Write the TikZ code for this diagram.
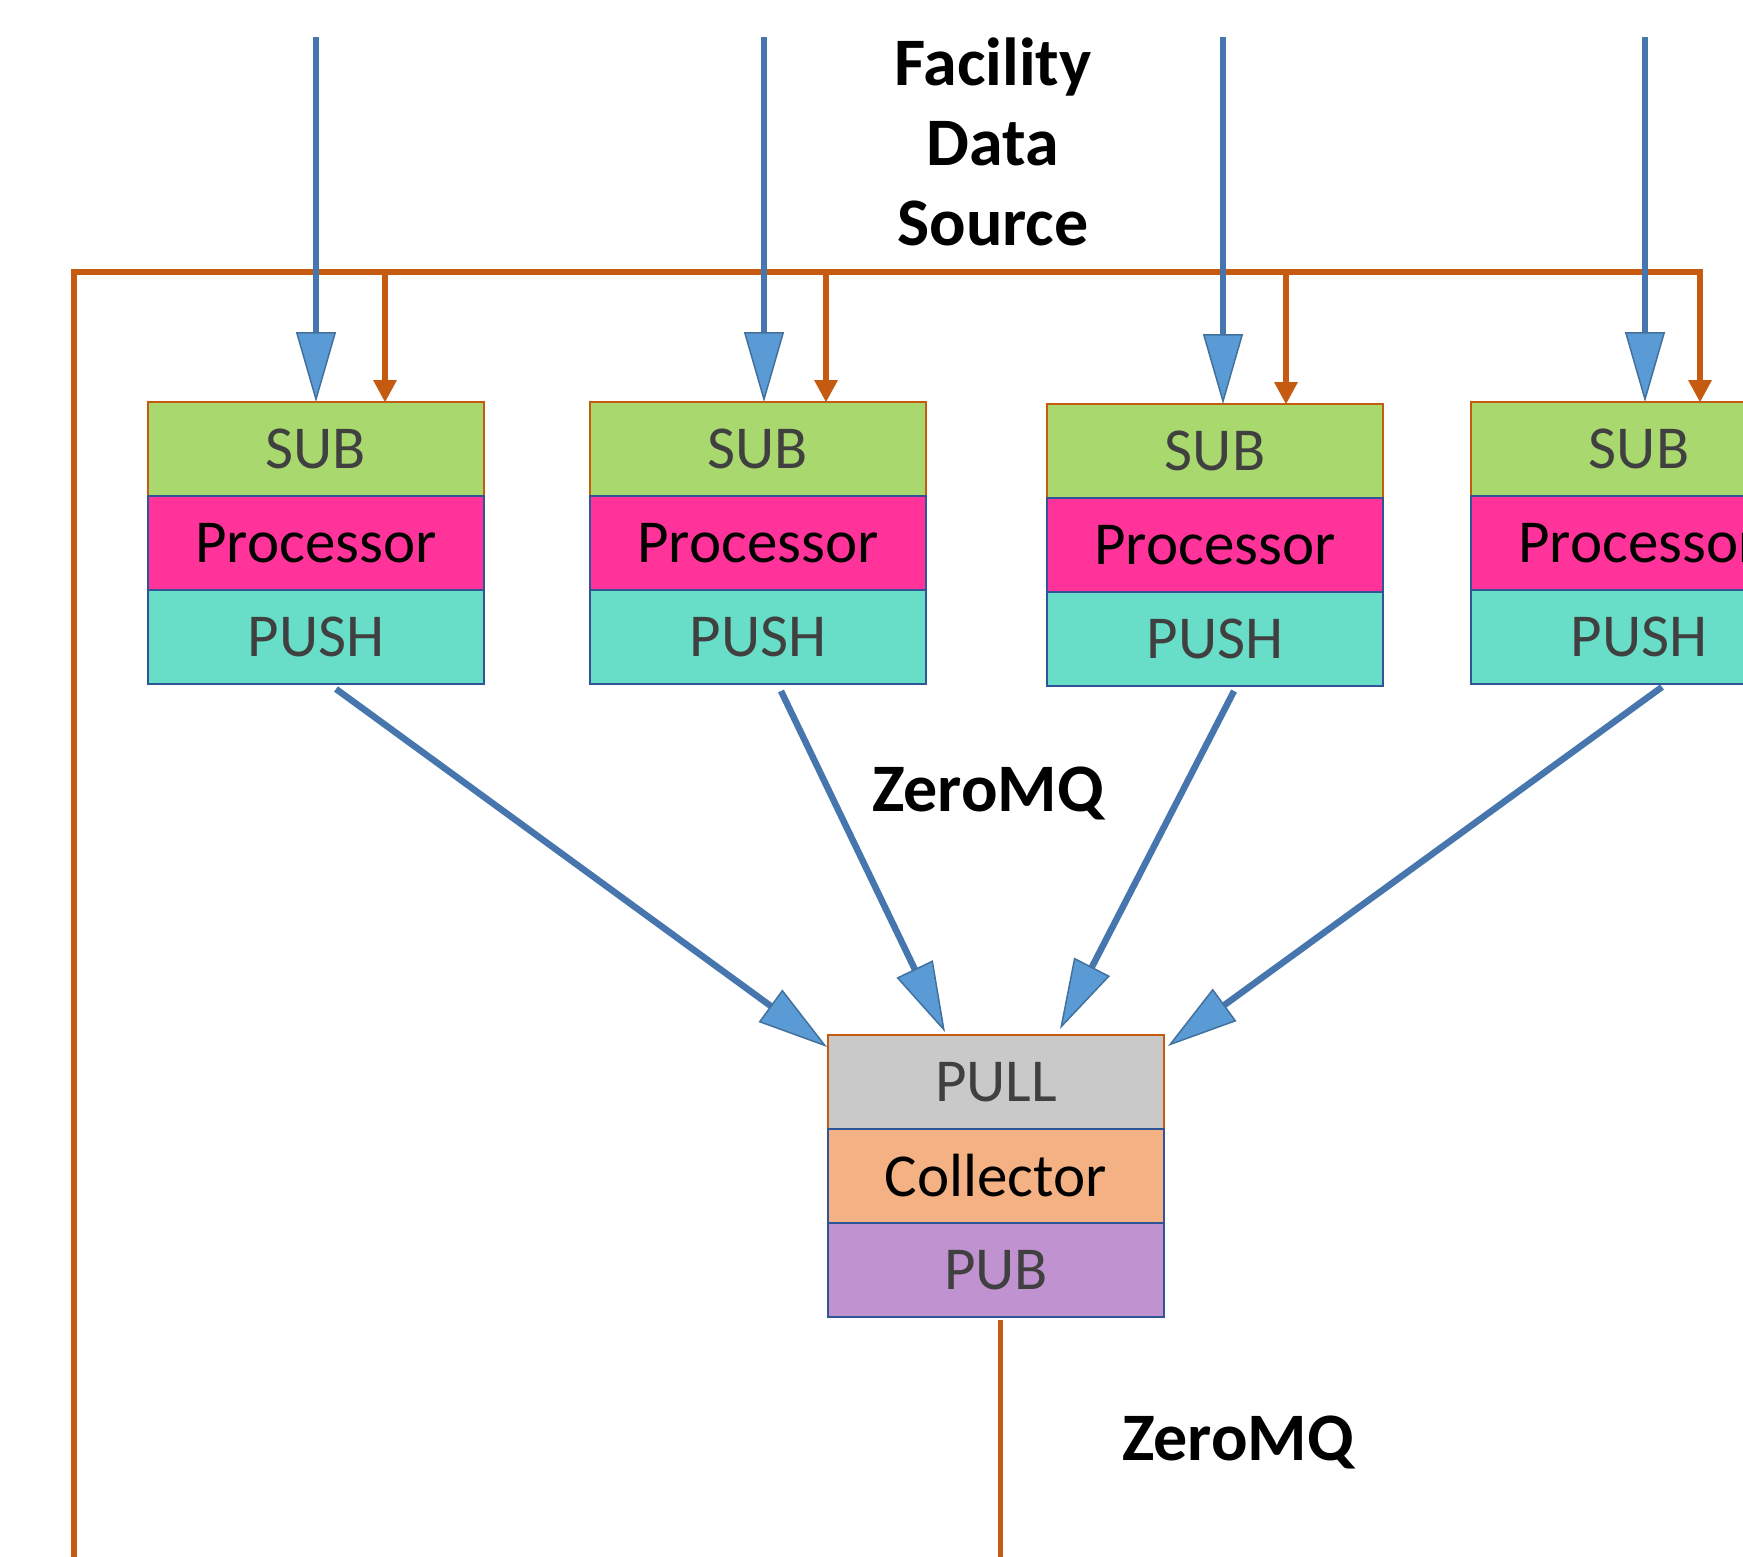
\documentclass[tikz,border=0pt]{standalone}
\usepackage{fontspec}
\setmainfont{Carlito}
\usetikzlibrary{arrows.meta,calc}
\definecolor{ored}{HTML}{C55A11}
\definecolor{bline}{HTML}{4676AD}
\definecolor{bfill}{HTML}{5B9BD5}
\definecolor{bedge}{HTML}{41719C}
\definecolor{subc}{HTML}{A9D86E}
\definecolor{procc}{HTML}{FF3399}
\definecolor{pushc}{HTML}{68DEC8}
\definecolor{pullc}{HTML}{C9C9C9}
\definecolor{collc}{HTML}{F4B183}
\definecolor{pubc}{HTML}{C093D0}
\definecolor{boxb}{HTML}{2F5597}
\definecolor{txtg}{HTML}{404040}
\begin{document}
\begin{tikzpicture}[x=1pt,y=-1pt,
 layer/.style={rectangle, minimum width=336pt, minimum height=94pt, inner sep=0pt, outer sep=0pt, anchor=north, line width=2.2pt, font=\fontsize{61}{72}\selectfont},
 sockO/.style={layer, draw=ored, text=txtg},
 sockB/.style={layer, draw=boxb, text=txtg},
 coreB/.style={layer, draw=boxb, text=black},
 bflow/.style={draw=bline, line width=6.5pt, -{Triangle[length=70pt,width=40pt,fill=bfill,color=bedge,line width=1.5pt]}},
 oflow/.style={draw=ored, line width=6.5pt, -{Triangle[length=22pt,width=24pt,fill=ored,color=ored,line width=0pt]}},
 obus/.style={draw=ored, line width=6pt},
 lbl/.style={font=\bfseries\fontsize{68}{80}\selectfont, align=center, inner sep=0pt}
]
\useasboundingbox (0,0) rectangle (1743,1556);
\clip (0,0) rectangle (1743,1556);

% processor stacks
\node[sockO, fill=subc] (sub1) at (316,402) {SUB};
\node[coreB, fill=procc] (proc1) at (sub1.south) {Processor};
\node[sockB, fill=pushc] (push1) at (proc1.south) {PUSH};

\node[sockO, fill=subc] (sub2) at (758,402) {SUB};
\node[coreB, fill=procc] (proc2) at (sub2.south) {Processor};
\node[sockB, fill=pushc] (push2) at (proc2.south) {PUSH};

\node[sockO, fill=subc] (sub3) at (1215,404) {SUB};
\node[coreB, fill=procc] (proc3) at (sub3.south) {Processor};
\node[sockB, fill=pushc] (push3) at (proc3.south) {PUSH};

\node[sockO, fill=subc] (sub4) at (1639,402) {SUB};
\node[coreB, fill=procc] (proc4) at (sub4.south) {Processor};
\node[sockB, fill=pushc] (push4) at (proc4.south) {PUSH};

% collector stack
\node[sockO, fill=pullc] (pull) at (996,1035) {PULL};
\node[coreB, fill=collc] (coll) at (pull.south) {Collector};
\node[sockB, fill=pubc] (pub) at (coll.south) {PUB};

% labels
\node[lbl] (fds) at (993,142) {Facility\\Data\\Source};
\node[lbl] (zmq1) at (988,793) {ZeroMQ};
\node[lbl] (zmq2) at (1238,1442) {ZeroMQ};

% orange bus and drops
\coordinate (bL) at (74,1560);
\coordinate (bTL) at (74,272);
\coordinate (b1) at (385,272);
\coordinate (b2) at (826,272);
\coordinate (b3) at (1286,272);
\coordinate (b4) at (1700,272);
\draw[oflow] (bL) -- (bTL) -- (b4) -- (b4 |- sub4.north);
\draw[oflow] (b1) -- (b1 |- sub1.north);
\draw[oflow] (b2) -- (b2 |- sub2.north);
\draw[oflow] (b3) -- (b3 |- sub3.north);

% PUB output
\coordinate (pubOut) at (1000,1560);
\draw[obus, line width=5pt] ($(pub.south)+(4,3)$) -- (pubOut);

% facility data inputs
\coordinate (in1) at (316,37);
\coordinate (in2) at (764,37);
\coordinate (in3) at (1223,37);
\coordinate (in4) at (1645,37);
\draw[bflow] (in1) -- (in1 |- sub1.north);
\draw[bflow] (in2) -- (in2 |- sub2.north);
\draw[bflow] (in3) -- (in3 |- sub3.north);
\draw[bflow] (in4) -- (in4 |- sub4.north);

% push -> pull
\coordinate (s1) at (336,689);
\coordinate (s2) at (781,691);
\coordinate (s3) at (1234,691);
\coordinate (s4) at (1662,687);
\coordinate (t1) at (827,1047);
\coordinate (t2) at (945,1032);
\coordinate (t3) at (1060,1029);
\coordinate (t4) at (1168,1046);
\draw[bflow] (s1) -- (t1);
\draw[bflow] (s2) -- (t2);
\draw[bflow] (s3) -- (t3);
\draw[bflow] (s4) -- (t4);
\end{tikzpicture}
\end{document}
